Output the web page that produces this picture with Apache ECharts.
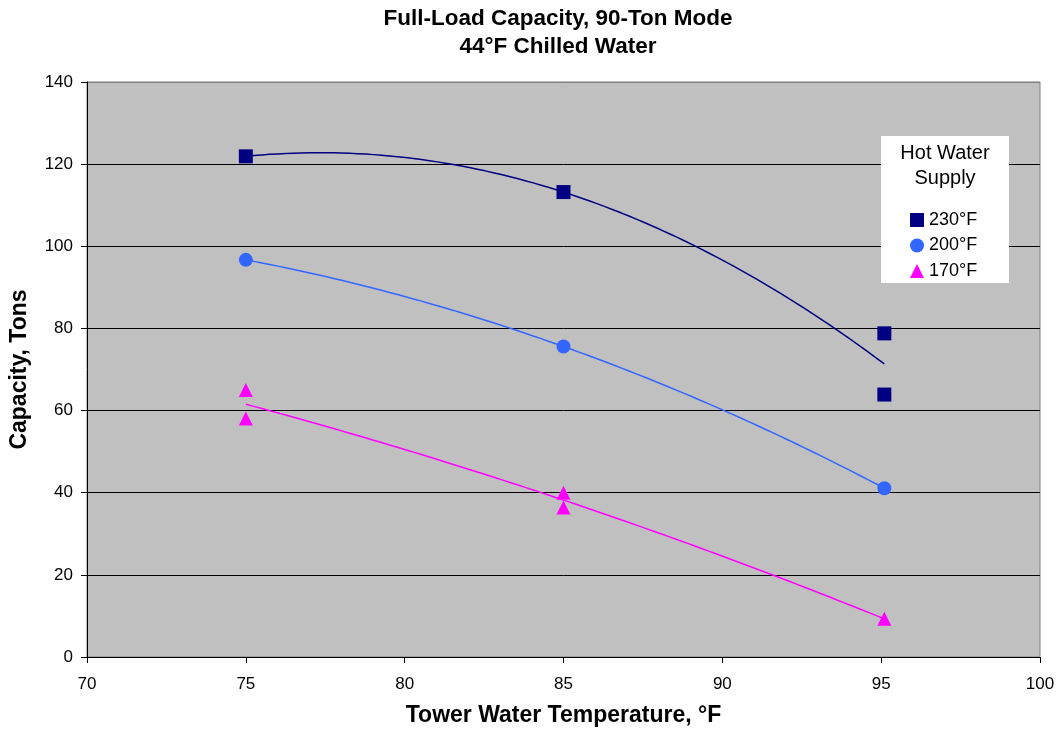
<!DOCTYPE html>
<html>
<head>
<meta charset="utf-8">
<title>Full-Load Capacity, 90-Ton Mode</title>
<script src="https://cdn.jsdelivr.net/npm/echarts@6/dist/echarts.min.js"></script>
<style>
  html, body { margin: 0; padding: 0; background: #fff; }
  #chart { width: 1060px; height: 736px; }
</style>
</head>
<body>
<div id="chart"></div>
<script>
// Tower water temperature (°F) and full-load capacity (tons) per hot-water supply temperature
const temps230 = [75, 85, 95.1, 95.1];
const cap230   = [121.9, 113.2, 78.8, 63.9];

const temps200 = [75, 85, 95.1];
const cap200   = [96.7, 75.6, 41.1];

const temps170 = [75, 75, 85, 85, 95.1];
const cap170   = [65.0, 58.1, 40.0, 36.4, 9.3];

const seriesNames = ['230°F', '200°F', '170°F'];
const seriesColors = ['#000080', '#3366FF', '#FF00FF'];
const seriesSymbols = ['rect', 'circle', 'triangle'];

const xTicks = { min: 70, max: 100, step: 5 };
const yTicks = { min: 0, max: 140, step: 20 };

const FONT = 'Liberation Sans, Arial, sans-serif';

// Second-order least-squares trendline through a set of points
function quadFit(xs, ys) {
  const n = xs.length;
  const s = [0, 0, 0, 0, 0], t = [0, 0, 0];
  for (let i = 0; i < n; i++) {
    const x = xs[i], y = ys[i];
    for (let k = 0; k <= 4; k++) s[k] += Math.pow(x, k);
    for (let k = 0; k <= 2; k++) t[k] += Math.pow(x, k) * y;
  }
  const A = [[s[0], s[1], s[2]], [s[1], s[2], s[3]], [s[2], s[3], s[4]]];
  const b = t.slice();
  for (let i = 0; i < 3; i++) {
    let p = i;
    for (let r = i + 1; r < 3; r++) if (Math.abs(A[r][i]) > Math.abs(A[p][i])) p = r;
    [A[i], A[p]] = [A[p], A[i]]; [b[i], b[p]] = [b[p], b[i]];
    for (let r = i + 1; r < 3; r++) {
      const f = A[r][i] / A[i][i];
      for (let c = i; c < 3; c++) A[r][c] -= f * A[i][c];
      b[r] -= f * b[i];
    }
  }
  const c = [0, 0, 0];
  for (let i = 2; i >= 0; i--) {
    let v = b[i];
    for (let k = i + 1; k < 3; k++) v -= A[i][k] * c[k];
    c[i] = v / A[i][i];
  }
  return c;
}

// Sample the fitted curve across the measured temperature range
function trendPoints(xs, ys) {
  const c = quadFit(xs, ys);
  const x0 = Math.min.apply(null, xs), x1 = Math.max.apply(null, xs);
  const pts = [];
  const steps = 80;
  for (let i = 0; i <= steps; i++) {
    const x = x0 + (x1 - x0) * i / steps;
    pts.push([x, c[0] + c[1] * x + c[2] * x * x]);
  }
  return pts;
}

const groups = [
  [temps230, cap230],
  [temps200, cap200],
  [temps170, cap170]
];

const series = [];
groups.forEach(function (g, i) {
  series.push({
    name: seriesNames[i] + ' trend',
    type: 'line',
    data: trendPoints(g[0], g[1]),
    showSymbol: false,
    silent: true,
    lineStyle: { color: seriesColors[i], width: 1.5 },
    itemStyle: { color: seriesColors[i] },
    z: 3
  });
});
groups.forEach(function (g, i) {
  series.push({
    name: seriesNames[i],
    type: 'scatter',
    data: g[0].map(function (x, k) { return [x, g[1][k]]; }),
    symbol: seriesSymbols[i],
    symbolSize: 14,
    itemStyle: { color: seriesColors[i], opacity: 1 },
    z: 4
  });
});

const chart = echarts.init(document.getElementById('chart'), null, { renderer: 'canvas' });

chart.setOption({
  animation: false,
  backgroundColor: '#FFFFFF',
  textStyle: { fontFamily: FONT, color: '#000' },
  title: {
    text: 'Full-Load Capacity, 90-Ton Mode\n44°F Chilled Water',
    left: 553,
    top: 0,
    textAlign: 'center',
    textStyle: {
      fontFamily: FONT,
      fontSize: 22.5,
      fontWeight: 'bold',
      lineHeight: 28,
      color: '#000'
    }
  },
  grid: {
    left: 86,
    right: 20,
    top: 82,
    bottom: 79,
    show: true,
    backgroundColor: '#C0C0C0',
    borderColor: '#808080',
    borderWidth: 1
  },
  xAxis: {
    type: 'value',
    min: xTicks.min,
    max: xTicks.max,
    interval: xTicks.step,
    name: 'Tower Water Temperature, °F',
    nameLocation: 'middle',
    nameGap: 47,
    nameTextStyle: { fontFamily: FONT, fontSize: 23, fontWeight: 'bold', color: '#000' },
    axisLine: { show: true, onZero: false, lineStyle: { color: '#000', width: 1 } },
    axisTick: { show: true, inside: false, length: 6, lineStyle: { color: '#000' } },
    axisLabel: { fontSize: 17, color: '#000', margin: 19 },
    splitLine: { show: false }
  },
  yAxis: {
    type: 'value',
    min: yTicks.min,
    max: yTicks.max,
    interval: yTicks.step,
    name: 'Capacity, Tons',
    nameLocation: 'middle',
    nameGap: 56,
    nameTextStyle: { fontFamily: FONT, fontSize: 23, fontWeight: 'bold', color: '#000' },
    axisLine: { show: true, lineStyle: { color: '#000', width: 1 } },
    axisTick: { show: true, inside: false, length: 6, lineStyle: { color: '#000' } },
    axisLabel: { fontSize: 17, color: '#000', margin: 14 },
    splitLine: {
      show: true,
      lineStyle: {
        color: ['#000', '#000', '#000', '#000', '#000', '#000', '#000', '#808080'],
        width: 1
      }
    }
  },
  legend: {
    data: seriesNames.map(function (n, i) {
      return { name: n, icon: seriesSymbols[i] };
    }),
    orient: 'vertical',
    left: 910,
    top: 211,
    itemWidth: 14,
    itemHeight: 14,
    itemGap: 7.5,
    itemTextGap: 4,
    padding: 0,
    selectedMode: false,
    textStyle: { fontFamily: FONT, fontSize: 18, lineHeight: 18, color: '#000' },
    z: 60
  },
  graphic: [
    {
      type: 'rect',
      z: 50,
      shape: { x: 881, y: 136, width: 128, height: 147 },
      style: { fill: '#FFFFFF', stroke: null }
    },
    {
      type: 'text',
      z: 55,
      style: {
        x: 945,
        y: 166,
        text: 'Hot Water\nSupply',
        fontFamily: FONT,
        fontSize: 20,
        lineHeight: 25,
        fill: '#000',
        align: 'center',
        verticalAlign: 'middle'
      }
    }
  ],
  series: series
});
</script>
</body>
</html>
